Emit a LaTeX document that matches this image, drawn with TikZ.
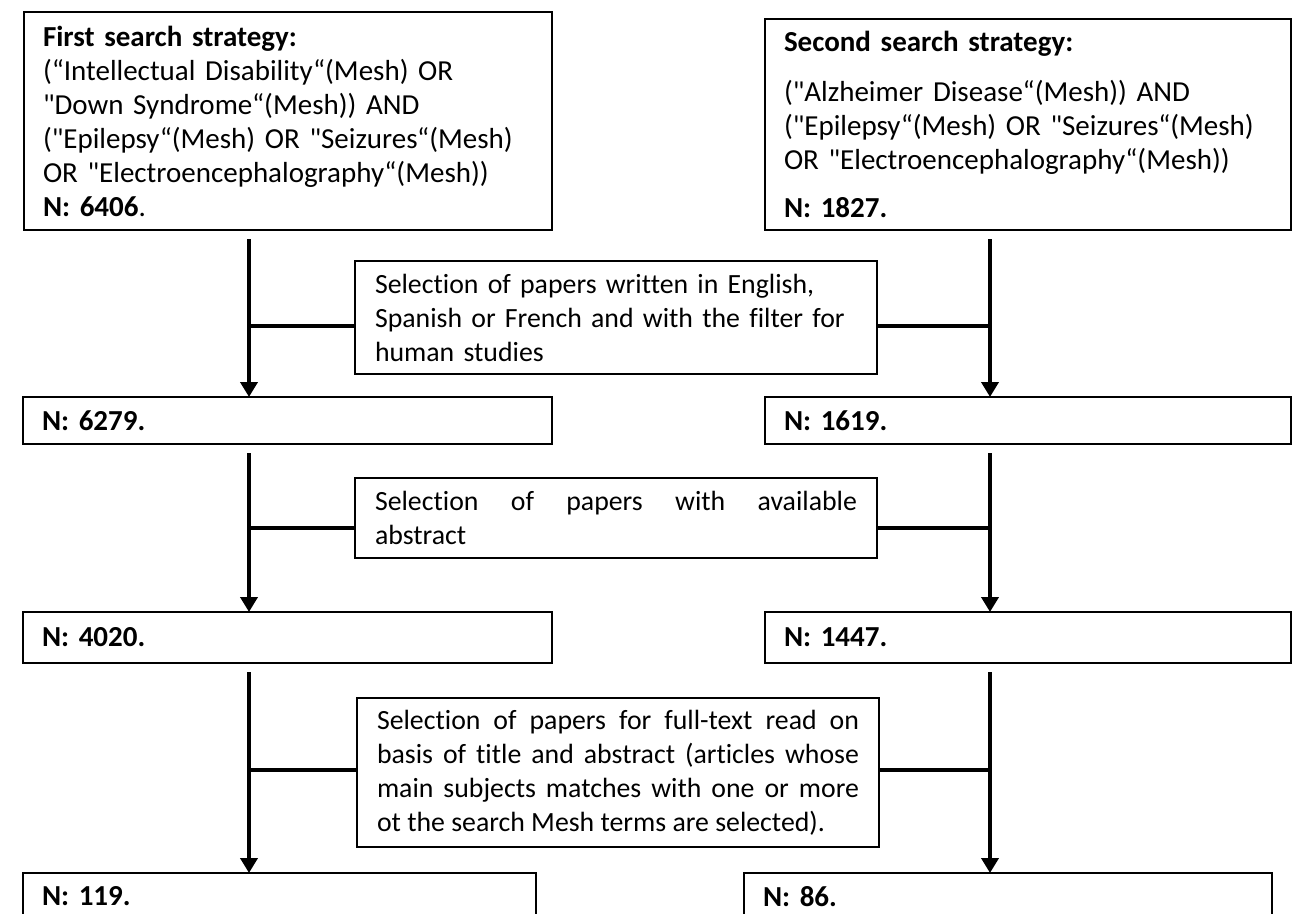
\documentclass[tikz,border=0pt]{standalone}
\usepackage{fontspec}
\setmainfont{Carlito}[Ligatures={TeXOff,CommonOff}]
\usetikzlibrary{arrows.meta, positioning}

\tikzset{
  box/.style={draw, line width=1.6pt, anchor=north west, outer sep=0pt,
    inner xsep=19pt, inner ysep=4pt, align=left,
    font=\fontsize{29}{34}\selectfont},
  selbox/.style={box, inner xsep=20pt, text width=482pt,
    font=\fontsize{27.8}{34}\selectfont},
  flow/.style={line width=4.5pt, shorten <=9pt,
    -{Triangle[width=17pt,length=15pt]}},
  link/.style={line width=4pt}
}

\begin{document}
\begin{tikzpicture}[x=1pt,y=-1pt]
        \useasboundingbox (0,0) rectangle (1292,913);
        % search strategies
        \node[box, text width=490pt, minimum height=218pt] (first) at (24,12)
            {\textbf{First search strategy:}\\
             (“Intellectual Disability“(Mesh) OR\\
             "Down Syndrome“(Mesh)) AND\\
             ("Epilepsy“(Mesh) OR "Seizures“(Mesh)\\
             OR "Electroencephalography“(Mesh))\\
             \textbf{N: 6406}.};
        \node[box, text width=488pt, minimum height=211pt] (second) at (765,19)
            {\textbf{Second search strategy:}\\[16pt]
             ("Alzheimer Disease“(Mesh)) AND\\
             ("Epilepsy“(Mesh) OR "Seizures“(Mesh)\\
             OR "Electroencephalography“(Mesh))\\[14pt]
             \textbf{N: 1827.}};
        % counts
        \node[box, text width=491pt, minimum height=47pt] (n1L) at (23,397) {\textbf{N: 6279.}};
        \node[box, text width=488pt, minimum height=47pt] (n1R) at (765,397) {\textbf{N: 1619.}};
        \node[box, text width=491pt, minimum height=51pt] (n2L) at (23,612) {\textbf{N: 4020.}};
        \node[box, text width=488pt, minimum height=51pt] (n2R) at (765,612) {\textbf{N: 1447.}};
        \node[box, text width=475pt, minimum height=47pt] (n3L) at (23,873) {\textbf{N: 119.}};
        \node[box, text width=490pt, minimum height=47pt] (n3R) at (744,873) {\textbf{N: 86.}};
        % selection steps
        \node[selbox, minimum height=113pt] (sel1) at (355,261)
            {Selection of papers written in English,\\
             Spanish or French and with the filter for\\
             human studies};
        \node[selbox, align=justify, minimum height=80pt] (sel2) at (355,478)
            {Selection of papers with available\linebreak abstract};
        \node[selbox, align=justify, minimum height=149pt] (sel3) at (357,698)
            {Selection of papers for full-text read on\linebreak
             basis of title and abstract (articles whose\linebreak
             main subjects matches with one or more\linebreak
             ot the search Mesh terms are selected).};
        \coordinate (colL) at (249,0);
        \coordinate (colR) at (990,0);
        % arrows
        \draw[flow] (first.south -| colL) to (n1L.north -| colL);
        \draw[flow] (n1L.south -| colL) to (n2L.north -| colL);
        \draw[flow] (n2L.south -| colL) to (n3L.north -| colL);
        \draw[flow] (second.south -| colR) to (n1R.north -| colR);
        \draw[flow] (n1R.south -| colR) to (n2R.north -| colR);
        \draw[flow] (n2R.south -| colR) to (n3R.north -| colR);
        \draw[link] ([yshift=-8pt]sel1.west) to ([yshift=-8pt]sel1.west -| colL);
        \draw[link] ([yshift=-8pt]sel1.east) to ([yshift=-8pt]sel1.east -| colR);
        \draw[link] ([yshift=-10pt]sel2.west) to ([yshift=-10pt]sel2.west -| colL);
        \draw[link] ([yshift=-10pt]sel2.east) to ([yshift=-10pt]sel2.east -| colR);
        \draw[link] ([yshift=3pt]sel3.west) to ([yshift=3pt]sel3.west -| colL);
        \draw[link] ([yshift=3pt]sel3.east) to ([yshift=3pt]sel3.east -| colR);
    \end{tikzpicture}
\end{document}
